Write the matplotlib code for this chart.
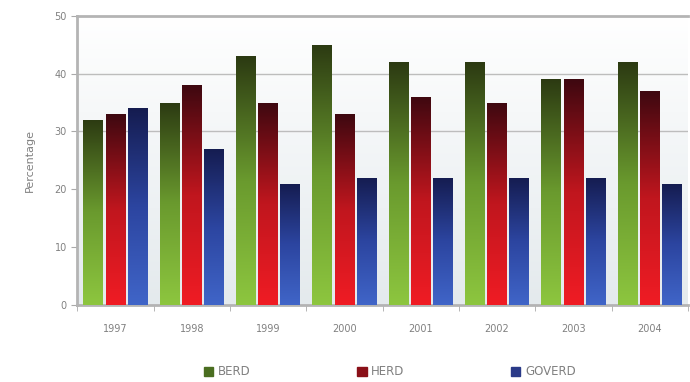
import numpy as np
import matplotlib.pyplot as plt
from matplotlib.colors import LinearSegmentedColormap

years = ['1997', '1998', '1999', '2000', '2001', '2002', '2003', '2004']
berd = [32, 35, 43, 45, 42, 42, 39, 42]
herd = [33, 38, 35, 33, 36, 35, 39, 37]
goverd = [34, 27, 21, 22, 22, 22, 22, 21]

series = [
    ('BERD', berd, ['#8dc63f', '#6a9a2e', '#2c3a12']),
    ('HERD', herd, ['#f01c24', '#c0161e', '#3e0810']),
    ('GOVERD', goverd, ['#4065c8', '#2c45a0', '#151c50']),
]

fig = plt.figure(figsize=(6.9, 3.82), dpi=100)
ax = fig.add_axes([0.112, 0.2016, 0.885, 0.757])

n = len(years)
x = np.arange(n)
w = 0.26
step = 0.29

# plot background: white at the top, pale grey-blue near the base
bg = np.linspace(0, 1, 100).reshape(-1, 1)
bg_cmap = LinearSegmentedColormap.from_list('bg', ['#e4eaed', '#ffffff'])
ax.imshow(bg, cmap=bg_cmap, extent=[-0.5, n - 0.5, 0, 50],
          aspect='auto', origin='lower', zorder=0)

for y in [30, 40]:
    ax.axhline(y, color='#bdbdbd', lw=1, zorder=1)

grad = np.linspace(0, 1, 256).reshape(-1, 1)
for i, (name, vals, cols) in enumerate(series):
    cmap = LinearSegmentedColormap.from_list(name, cols)
    bars = ax.bar(x + (i - 1) * step, vals, w, color=cols[0], label=name, zorder=2)
    for b in bars:
        x0, y0 = b.get_x(), b.get_y()
        im = ax.imshow(grad, cmap=cmap, aspect='auto', origin='lower',
                       extent=[x0, x0 + b.get_width(), y0, y0 + b.get_height()],
                       zorder=3)
        im.set_clip_path(b)

ax.set_xlim(-0.5, n - 0.5)
ax.set_ylim(0, 50)
ax.set_xticks(x)
ax.set_xticklabels(years)
ax.set_xticks(np.arange(n + 1) - 0.5, minor=True)
ax.tick_params(axis='x', which='major', length=0, pad=14)
ax.tick_params(axis='x', which='minor', length=4, color='#aaaaaa')
ax.set_yticks(range(0, 51, 10))
ax.tick_params(axis='y', length=4, color='#aaaaaa')
ax.tick_params(labelsize=7)
for lab in ax.get_xticklabels() + ax.get_yticklabels():
    lab.set_color('#808080')

for s in ['left', 'top', 'bottom']:
    ax.spines[s].set_color('#b4b4b4')
    ax.spines[s].set_linewidth(2)
ax.spines['right'].set_visible(False)

ax.set_ylabel('Percentage', color='#808080', fontsize=8, labelpad=14)

labels = [s[0] for s in series]
handles = [plt.Rectangle((0, 0), 1, 1, color=c) for c in ['#4a6e20', '#8a1018', '#2a3a88']]
fig.legend(handles, labels, loc='lower center', ncol=3, frameon=False,
           bbox_to_anchor=(0.565, -0.018), columnspacing=9.0, handlelength=0.8,
           handleheight=0.8, handletextpad=0.4, fontsize=8.5, labelcolor='#808080')

fig.savefig('out.png', dpi=100)
